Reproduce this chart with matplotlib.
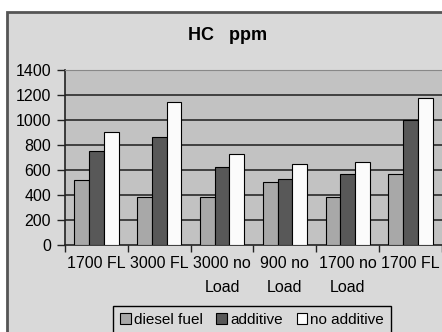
import matplotlib.pyplot as plt
from matplotlib.patches import Rectangle
import numpy as np

# HC emissions (ppm) per engine condition
conditions = ["1700 FL", "3000 FL", "3000 no\nLoad", "900 no\nLoad", "1700 no\nLoad", "1700 FL"]
diesel_fuel = [520, 380, 380, 505, 380, 565]
additive = [750, 860, 620, 525, 565, 1000]
no_additive = [900, 1140, 725, 645, 665, 1175]

plt.rcParams['font.family'] = ['Liberation Sans', 'DejaVu Sans']

fig = plt.figure(figsize=(4.42, 3.32), dpi=100)
fig.patch.set_facecolor('white')

# chart frame (runs past the right and bottom edges)
fig.patches.append(Rectangle((7 / 442, -0.1), 1.2, 1 - 12 / 332 + 0.1, transform=fig.transFigure,
                             facecolor='#d9d9d9', edgecolor='#555555', linewidth=2, zorder=-5))

ax = fig.add_axes([65 / 442, 1 - 245 / 332, 377 / 442, (245 - 69.5) / 332])
ax.set_zorder(2)
ax.set_facecolor('#c2c2c2')

x = np.arange(len(conditions))
w = 0.235
ax.bar(x - w, diesel_fuel, w, color='#a8a8a8', edgecolor='black', linewidth=0.8, label='diesel fuel', zorder=3)
ax.bar(x, additive, w, color='#585858', edgecolor='black', linewidth=0.8, label='additive', zorder=3)
ax.bar(x + w, no_additive, w, color='#fbfbfb', edgecolor='black', linewidth=0.8, label='no additive', zorder=3)

ax.set_xlim(-0.5, len(conditions) - 0.5)
ax.set_ylim(0, 1400)
ax.set_yticks(range(0, 1401, 200))
for yv in range(200, 1400, 200):
    ax.axhline(yv, color='#2a2a2a', linewidth=1.2, zorder=1)

ax.set_xticks(x)
ax.set_xticklabels(conditions, fontsize=11.5, linespacing=1.75)
ax.set_xticks(np.arange(-0.5, len(conditions)), minor=True)
ax.tick_params(axis='x', which='major', length=0, pad=8)
ax.tick_params(axis='x', which='minor', length=5, width=1, color='#222222')
ax.tick_params(axis='y', length=6, width=1, color='#222222', labelsize=11.5, pad=4)

ax.spines['right'].set_visible(False)
ax.spines['top'].set_color('#888888')
ax.spines['left'].set_color('#222222')
ax.spines['bottom'].set_color('#222222')
ax.spines['left'].set_linewidth(1.2)
ax.spines['bottom'].set_linewidth(1.2)

fig.text(228 / 442, 1 - 35 / 332, 'HC   ppm', ha='center', va='center', fontsize=13, fontweight='bold')

leg = fig.legend(loc='upper center', bbox_to_anchor=(252 / 442, 1 - 306 / 332), ncol=3,
                 fontsize=11, frameon=True, fancybox=False, edgecolor='black',
                 facecolor='#d9d9d9', framealpha=1, handlelength=0.7, handleheight=0.7,
                 handletextpad=0.2, columnspacing=0.9, borderpad=0.45, borderaxespad=0)
leg.get_frame().set_linewidth(1)

fig.savefig('out.png', dpi=100)
